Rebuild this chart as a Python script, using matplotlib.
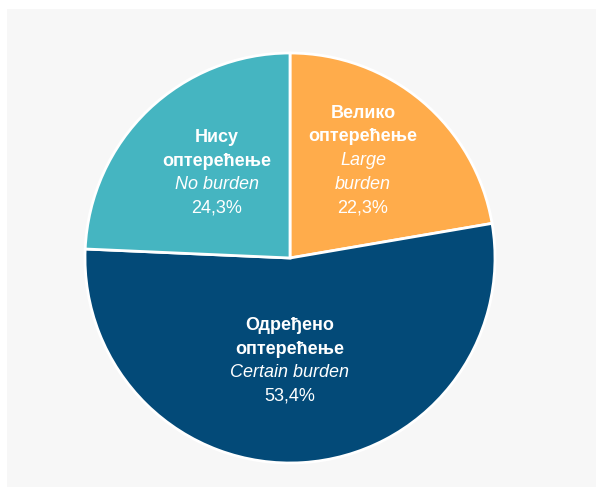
import matplotlib
matplotlib.use("Agg")
import matplotlib.pyplot as plt
from matplotlib.patches import Rectangle
from matplotlib import font_manager as fm

# ---- data ----
labels_sr = ["Велико\nоптерећење", "Одређено\nоптерећење", "Нису\nоптерећење"]
labels_en = ["Large\nburden", "Certain burden", "No burden"]
values = [22.3, 53.4, 24.3]
colors = ["#FFAC4B", "#034A78", "#45B5C1"]

# ---- layout ----
label_pos = [(0.356, 0.476), (0.0, -0.502), (-0.356, 0.415)]

names = {f.name for f in fm.fontManager.ttflist}
fam = "Liberation Sans Narrow" if "Liberation Sans Narrow" in names else "Liberation Sans"
fsize = 15 if fam == "Liberation Sans Narrow" else 13

W, H = 596, 487
fig = plt.figure(figsize=(W / 100, H / 100), dpi=100)
fig.patch.set_facecolor("white")
fig.patches.append(Rectangle((7 / W, 0), 1 - 7 / W, (H - 9) / H,
                             transform=fig.transFigure, facecolor="#F7F7F7",
                             edgecolor="none", zorder=-10))

cx, cy, r = 290, H - 258, 205
ax = fig.add_axes([(cx - r) / W, (cy - r) / H, 2 * r / W, 2 * r / H])
ax.set_zorder(5)
ax.set_facecolor("none")
wedges, _ = ax.pie(values, colors=colors, startangle=90, counterclock=False,
                   radius=1.0, wedgeprops=dict(edgecolor="white", linewidth=2))
ax.set_xlim(-1, 1)
ax.set_ylim(-1, 1)
ax.set_aspect("equal")
ax.axis("off")

step = 17.0  # points between lines
for sr, en, v, (x, y) in zip(labels_sr, labels_en, values, label_pos):
    lines = [(s, "bold", "normal") for s in sr.split("\n")]
    lines += [(s, "normal", "italic") for s in en.split("\n")]
    lines += [(f"{v:.1f}%".replace(".", ","), "normal", "normal")]
    n = len(lines)
    for i, (txt, wt, st) in enumerate(lines):
        off = ((n - 1) / 2 - i) * step
        ax.annotate(txt, xy=(x, y), xytext=(0, off), textcoords="offset points",
                    ha="center", va="center", color="white", fontsize=fsize,
                    fontweight=wt, fontstyle=st, family=fam)

fig.savefig("out.png", dpi=100, facecolor=fig.get_facecolor())
